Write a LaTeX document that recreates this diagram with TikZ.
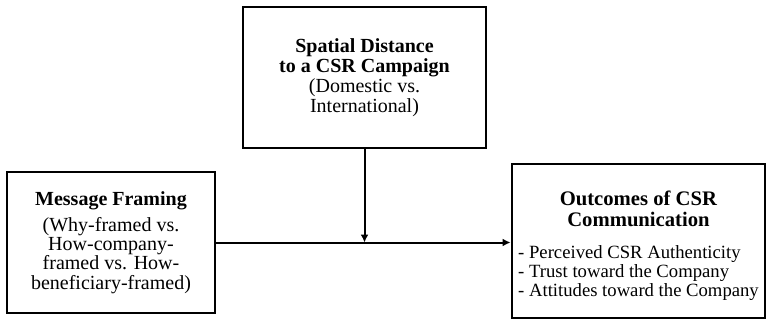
\documentclass[tikz,border=0pt]{standalone}
\usepackage{fontspec}
\setmainfont{Liberation Serif}
\usetikzlibrary{arrows.meta}
\tikzset{
  box/.style={draw,line width=2.2pt,align=center,inner sep=0pt,font=\fontsize{15}{14.5}\selectfont},
  conn/.style={line width=1.5pt,-{Latex[length=6pt,width=6pt]}}
}
\begin{document}
\begin{tikzpicture}[x=0.75pt,y=-0.75pt]
\useasboundingbox (0,0) rectangle (767,321);
\node[box,minimum width=156pt,minimum height=105.75pt] (framing) at (111,242.5)
  {\textbf{Message Framing}\\[5pt](Why-framed vs.\\How-company-\\framed vs. How-\\beneficiary-framed)};
\node[box,minimum width=182.25pt,minimum height=105.75pt,font=\fontsize{15}{15}\selectfont] (distance) at (364.5,77.5)
  {\textbf{Spatial Distance}\\\textbf{to a CSR Campaign}\\(Domestic vs.\\International)};
\node[box,minimum width=189.75pt,minimum height=115.5pt,font=\fontsize{15.5}{16}\selectfont] (outcome) at (638.5,241)
  {\rule{0pt}{19pt}\textbf{Outcomes of CSR}\\\textbf{Communication}\\[13pt]\fontsize{14}{14}\selectfont
   \begin{tabular}{@{}l@{}}- Perceived CSR Authenticity\\- Trust toward the Company\\- Attitudes toward the Company\end{tabular}};
\draw[conn] (framing.east) -- (framing.east -| outcome.west);
\draw[conn] (distance.south) -- (distance.south |- framing.east);
\end{tikzpicture}
\end{document}
